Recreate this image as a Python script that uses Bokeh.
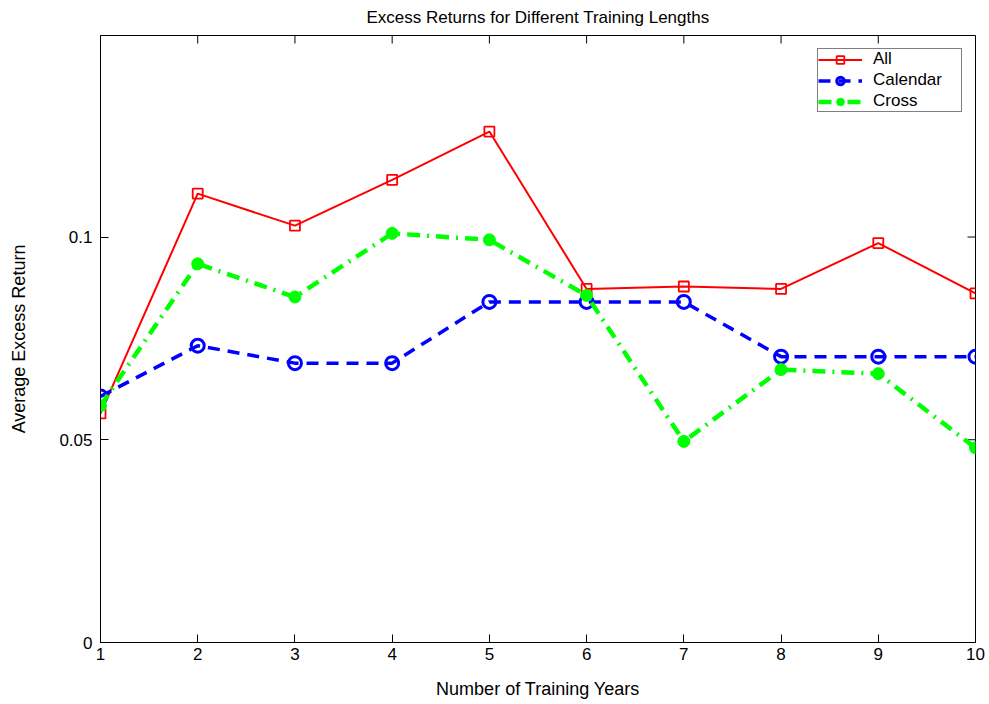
import math
from bokeh.plotting import figure
from bokeh.models import FixedTicker, Range1d, Legend
from bokeh.embed import file_html
from bokeh.resources import INLINE

years = [1, 2, 3, 4, 5, 6, 7, 8, 9, 10]
all_vals = [0.0565, 0.1107, 0.1028, 0.1141, 0.1260, 0.0872, 0.0878, 0.0872, 0.0985, 0.0861]
calendar_vals = [0.0607, 0.0732, 0.0689, 0.0689, 0.0840, 0.0840, 0.0840, 0.0705, 0.0705, 0.0705]
cross_vals = [0.0584, 0.0934, 0.0852, 0.1009, 0.0993, 0.0856, 0.0496, 0.0673, 0.0663, 0.0480]
x_ticks = [1, 2, 3, 4, 5, 6, 7, 8, 9, 10]
y_ticks = [0, 0.05, 0.1]
y_tick_labels = ["0", "0.05", "0.1"]
x_min, x_max = 1, 10
y_min, y_max = 0, 0.1497

FONT = "Liberation Sans"

p = figure(width=989, height=704, output_backend="svg", toolbar_location=None,
           x_range=Range1d(x_min, x_max), y_range=Range1d(y_min, y_max),
           min_border_left=100, min_border_right=14, min_border_top=35, min_border_bottom=62,
           title="Excess Returns for Different Training Lengths")
p.title.align = "center"
p.title.vertical_align = "top"
p.title.text_font = FONT
p.title.text_font_size = "17px"
p.title.text_font_style = "normal"
p.title.text_color = "black"
p.title.standoff = 14

p.grid.visible = False
p.outline_line_color = "black"
p.outline_line_width = 1
p.background_fill_color = "white"
p.border_fill_color = "white"

for ax in [p.xaxis[0], p.yaxis[0]]:
    ax.major_tick_in = 8
    ax.major_tick_out = 0
    ax.minor_tick_line_color = None
    ax.axis_line_color = "black"
    ax.major_tick_line_color = "black"
    ax.major_label_text_font = FONT
    ax.major_label_text_font_size = "17px"
    ax.major_label_text_color = "black"
    ax.axis_label_text_font = FONT
    ax.axis_label_text_font_size = "18px"
    ax.axis_label_text_font_style = "normal"
    ax.axis_label_text_color = "black"

p.xaxis[0].ticker = FixedTicker(ticks=x_ticks)
p.xaxis[0].axis_label = "Number of Training Years"
p.xaxis[0].major_label_standoff = 5
p.xaxis[0].axis_label_standoff = 16

p.yaxis[0].ticker = FixedTicker(ticks=y_ticks)
p.yaxis[0].major_label_overrides = {t: s for t, s in zip(y_ticks, y_tick_labels)}
p.yaxis[0].axis_label = "Average Excess Return"
p.yaxis[0].major_label_standoff = 8
p.yaxis[0].axis_label_standoff = 27

# inward tick marks on the top and right edges of the box (clipped to the frame)
p.scatter(x=x_ticks, y=[y_max] * len(x_ticks), marker="dash", angle=math.pi / 2,
          size=16, line_color="black", line_width=1)
p.scatter(x=[x_max] * len(y_ticks), y=y_ticks, marker="dash",
          size=16, line_color="black", line_width=1)

r1l = p.line(years, all_vals, line_color="#ff0000", line_width=2)
r1m = p.scatter(years, all_vals, marker="square", size=10, line_color="#ff0000",
                fill_color=None, line_width=1.8)
r2l = p.line(years, calendar_vals, line_color="#0000ff", line_width=3.5, line_dash="12 8")
r2m = p.scatter(years, calendar_vals, marker="circle", size=13, line_color="#0000ff",
                fill_color=None, line_width=3)
r3l = p.line(years, cross_vals, line_color="#00ff00", line_width=4.5, line_dash="13 7 2 7")
r3m = p.scatter(years, cross_vals, marker="circle", size=12, line_color="#00ff00",
                fill_color="#00ff00", line_width=1)

legend = Legend(items=[("All", [r1l, r1m]), ("Calendar", [r2l, r2m]), ("Cross", [r3l, r3m])],
                location="top_right")
legend.margin = 13
legend.padding = 0
legend.spacing = 1
legend.label_text_font = FONT
legend.label_text_font_size = "17px"
legend.label_text_color = "black"
legend.label_height = 19
legend.label_width = 88
legend.glyph_height = 19
legend.glyph_width = 44
legend.label_standoff = 11
legend.border_line_color = "black"
legend.border_line_width = 1
legend.background_fill_alpha = 1
p.add_layout(legend, "center")

open("out.html", "w").write(file_html(p, INLINE))
